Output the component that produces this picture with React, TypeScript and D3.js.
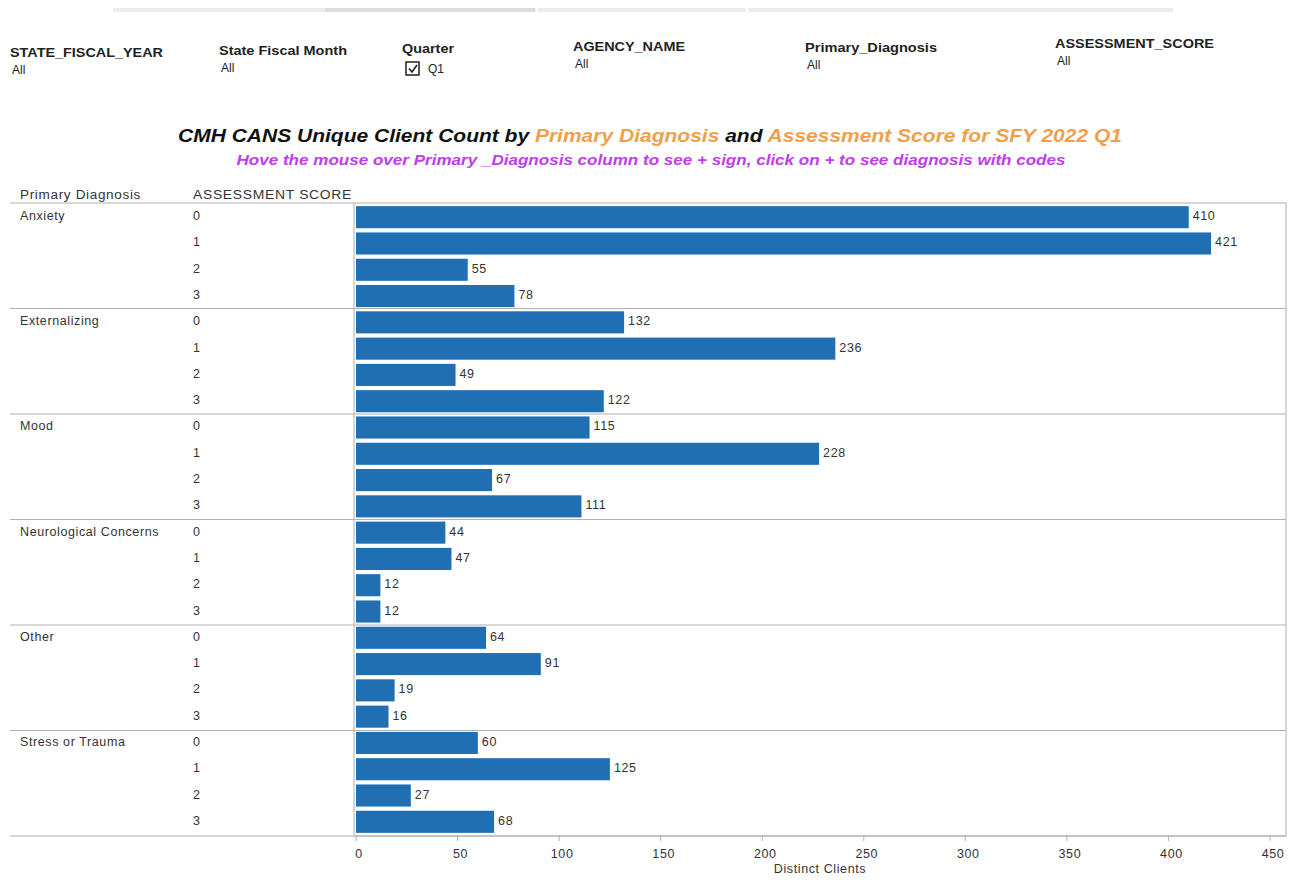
import React from "react";
import * as d3 from "d3";

const diagnoses = ["Anxiety", "Externalizing", "Mood", "Neurological Concerns", "Other", "Stress or Trauma"];
const scores = ["0", "1", "2", "3"];
const anxiety = [410, 421, 55, 78];
const externalizing = [132, 236, 49, 122];
const mood = [115, 228, 67, 111];
const neurological = [44, 47, 12, 12];
const other = [64, 91, 19, 16];
const stress = [60, 125, 27, 68];
const seriesValues = [anxiety, externalizing, mood, neurological, other, stress];
const xTicks = [0, 50, 100, 150, 200, 250, 300, 350, 400, 450];

const filters = [
  { label: "STATE_FISCAL_YEAR", value: "All", x: 10, y: 57, w: 153 },
  { label: "State Fiscal Month", value: "All", x: 219, y: 55, w: 128 },
  { label: "Quarter", value: "Q1", x: 402, y: 53, w: 52 },
  { label: "AGENCY_NAME", value: "All", x: 573, y: 51, w: 112 },
  { label: "Primary_Diagnosis", value: "All", x: 805, y: 52, w: 132 },
  { label: "ASSESSMENT_SCORE", value: "All", x: 1055, y: 48, w: 159 },
];

const rows = diagnoses.flatMap((d, gi) =>
  scores.map((s, si) => ({ diag: d, score: s, value: seriesValues[gi][si], key: `${d}-${s}` }))
);

export default function App() {
  const W = 1300, H = 882;
  const plotL = 354, plotR = 1286, plotT = 203, plotB = 836;
  const x = d3.scaleLinear().domain([0, 450]).range([356, 1270]);
  const y = d3.scaleBand<string>().domain(rows.map(r => r.key)).range([plotT, plotB]).paddingInner(0.16).paddingOuter(0.12);
  const groupH = (plotB - plotT) / diagnoses.length;
  const font = "'Liberation Sans', Arial, sans-serif";
  const barColor = "#1f6fb2";
  const txt = { fontSize: 12.5, fill: "#333", letterSpacing: 0.6 } as const;

  return (
    <div style={{ margin: -8 }}>
      <svg width={W} height={H} style={{ display: "block", fontFamily: font, background: "#fff" }}>
        {/* top scroll/tab strip */}
        <rect x={113} y={5} width={1060} height={7} fill="#ececec" />
        <rect x={325} y={5} width={210} height={7} fill="#dcdcdc" />
        <line x1={537} x2={537} y1={4} y2={13} stroke="#fff" strokeWidth={2} />
        <line x1={747} x2={747} y1={4} y2={13} stroke="#fff" strokeWidth={2} />

        {/* filters */}
        {filters.map(f => (
          <g key={f.label}>
            <text x={f.x} y={f.y} fontSize={13} fontWeight="bold" fill="#222" textLength={f.w} lengthAdjust="spacingAndGlyphs">{f.label}</text>
            {f.label === "Quarter" ? (
              <g>
                <rect x={f.x + 4} y={f.y + 9} width={13} height={13} fill="#fff" stroke="#222" strokeWidth={1.5} />
                <path d={`M${f.x + 7},${f.y + 15.5} l3,3.5 l5,-7`} fill="none" stroke="#222" strokeWidth={1.6} />
                <text x={f.x + 26} y={f.y + 20} fontSize={12} fill="#222">{f.value}</text>
              </g>
            ) : (
              <text x={f.x + 2} y={f.y + 17} fontSize={12} fill="#222">{f.value}</text>
            )}
          </g>
        ))}

        {/* title */}
        <text x={650} y={142} textAnchor="middle" fontSize={18} fontWeight="bold" fontStyle="italic"
          textLength={944} lengthAdjust="spacingAndGlyphs">
          <tspan fill="#111">CMH CANS Unique Client Count by </tspan>
          <tspan fill="#f0a04a">Primary Diagnosis</tspan>
          <tspan fill="#111"> and </tspan>
          <tspan fill="#f0a04a">Assessment Score for SFY 2022 Q1</tspan>
        </text>
        <text x={651} y={165} textAnchor="middle" fontSize={14} fontWeight="bold" fontStyle="italic" fill="#c03cf0"
          textLength={829} lengthAdjust="spacingAndGlyphs">
          Hove the mouse over Primary _Diagnosis column to see + sign, click on + to see diagnosis with codes
        </text>

        {/* column headers */}
        <text x={20} y={199} {...txt} textLength={121} lengthAdjust="spacingAndGlyphs">Primary  Diagnosis</text>
        <text x={193} y={199} {...txt} textLength={159} lengthAdjust="spacingAndGlyphs">ASSESSMENT  SCORE</text>

        {/* plot border */}
        <rect x={plotL} y={plotT} width={plotR - plotL} height={plotB - plotT} fill="none" stroke="#b0b0b0" />
        <line x1={10} x2={plotL} y1={plotT} y2={plotT} stroke="#b0b0b0" />

        {/* group separators */}
        {diagnoses.map((d, gi) => (
          <line key={d} x1={10} x2={plotR} y1={plotT + groupH * (gi + 1)} y2={plotT + groupH * (gi + 1)} stroke="#b0b0b0" />
        ))}

        {/* group labels */}
        {diagnoses.map((d, gi) => (
          <text key={d} x={20} y={(y(`${d}-0`) ?? 0) + y.bandwidth() / 2 + 3} {...txt}>{d}</text>
        ))}

        {/* rows */}
        {rows.map(r => {
          const yy = y(r.key) ?? 0;
          return (
            <g key={r.key}>
              <text x={193} y={yy + y.bandwidth() / 2 + 3} {...txt}>{r.score}</text>
              <rect x={x(0)} y={yy} width={x(r.value) - x(0)} height={y.bandwidth()} fill={barColor} />
              <text x={x(r.value) + 4} y={yy + y.bandwidth() / 2 + 3} {...txt}>{r.value}</text>
            </g>
          );
        })}

        {/* x axis */}
        {xTicks.map(t => (
          <g key={t}>
            <line x1={x(t)} x2={x(t)} y1={plotB} y2={plotB + 5} stroke="#b0b0b0" />
            <text x={x(t) + 3} y={plotB + 22} textAnchor="middle" {...txt}>{t}</text>
          </g>
        ))}
        <text x={820} y={873} textAnchor="middle" {...txt}>Distinct Clients</text>
      </svg>
    </div>
  );
}
